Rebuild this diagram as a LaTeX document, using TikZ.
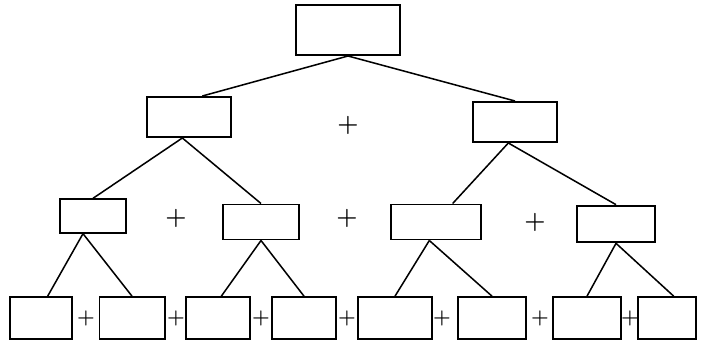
\documentclass[tikz,border=0pt]{standalone}
\usepackage{tikz}

\tikzset{
  box/.style={draw,line width=1.7pt,inner sep=0pt},
  plus/.style={font=\huge\bfseries,inner sep=1pt},
  smallplus/.style={font=\LARGE\bfseries,inner sep=0pt},
  branch/.style={line width=1.3pt}
}

\begin{document}
\begin{tikzpicture}[x=0.03cm,y=-0.03cm]
    \useasboundingbox (0,0) rectangle (709,348);

    % top
    \node[box,minimum width=3.1cm,minimum height=1.5cm] (root) at (348,30) {};

    % second row
    \node[box,minimum width=2.5cm,minimum height=1.2cm] (left) at (189,117) {};
    \node[box,minimum width=2.5cm,minimum height=1.2cm] (right) at (515,122) {};
    \node[plus] (p1) at (348,125) {+};

    % third row
    \node[box,minimum width=2.0cm,minimum height=1.0cm] (la) at (93,216) {};
    \node[box,minimum width=2.3cm,minimum height=1.05cm] (lb) at (261,222) {};
    \node[box,minimum width=2.7cm,minimum height=1.05cm] (ra) at (436,222) {};
    \node[box,minimum width=2.35cm,minimum height=1.1cm] (rb) at (616,224) {};
    \node[plus] (p2) at (176,218) {+};
    \node[plus] (p3) at (347,218) {+};
    \node[plus] (p4) at (535,222) {+};

    % bottom row
    \node[box,minimum width=1.85cm,minimum height=1.25cm] (b1) at (41,318) {};
    \node[box,minimum width=1.95cm,minimum height=1.25cm] (b2) at (132,318) {};
    \node[box,minimum width=1.9cm,minimum height=1.25cm] (b3) at (218,318) {};
    \node[box,minimum width=1.9cm,minimum height=1.25cm] (b4) at (304,318) {};
    \node[box,minimum width=2.2cm,minimum height=1.25cm] (b5) at (395,318) {};
    \node[box,minimum width=2.05cm,minimum height=1.25cm] (b6) at (492,318) {};
    \node[box,minimum width=2.05cm,minimum height=1.25cm] (b7) at (587,318) {};
    \node[box,minimum width=1.75cm,minimum height=1.25cm] (b8) at (667,318) {};
    \node[smallplus] (q1) at (86,318) {+};
    \node[smallplus] (q2) at (176,318) {+};
    \node[smallplus] (q3) at (261,318) {+};
    \node[smallplus] (q4) at (347,318) {+};
    \node[smallplus] (q5) at (442,318) {+};
    \node[smallplus] (q6) at (540,318) {+};
    \node[smallplus] (q7) at (630,318) {+};

    \draw[branch] (root.south) -- ([xshift=0.4cm]left.north);
    \draw[branch] (root.south) -- (right.north);
    \draw[branch] ([xshift=-0.2cm]left.south) -- (la.north);
    \draw[branch] ([xshift=-0.2cm]left.south) -- (lb.north);
    \draw[branch] ([xshift=-0.2cm]right.south) -- ([xshift=0.5cm]ra.north);
    \draw[branch] ([xshift=-0.2cm]right.south) -- (rb.north);
    \draw[branch] ([xshift=-0.3cm]la.south) -- ([xshift=0.2cm]b1.north);
    \draw[branch] ([xshift=-0.3cm]la.south) -- (b2.north);
    \draw[branch] (lb.south) -- ([xshift=0.1cm]b3.north);
    \draw[branch] (lb.south) -- (b4.north);
    \draw[branch] ([xshift=-0.2cm]ra.south) -- (b5.north);
    \draw[branch] ([xshift=-0.2cm]ra.south) -- (b6.north);
    \draw[branch] (rb.south) -- (b7.north);
    \draw[branch] (rb.south) -- ([xshift=0.2cm]b8.north);
\end{tikzpicture}
\end{document}
